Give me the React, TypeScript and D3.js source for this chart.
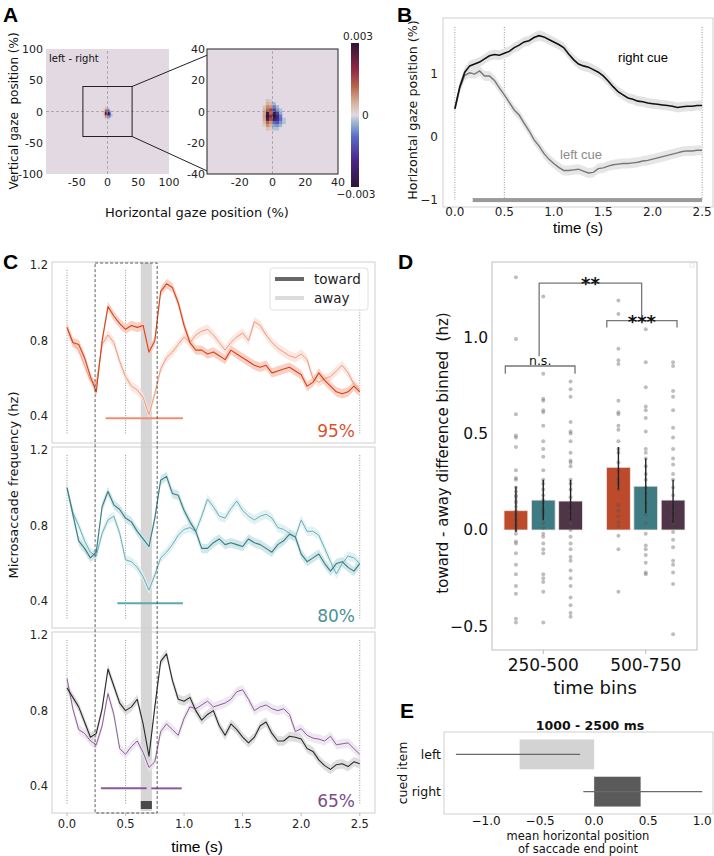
import * as d3 from "d3";

const TICK = "'DejaVu Sans', sans-serif";
const SANS = "'Liberation Sans', Arial, sans-serif";

// ---- A: gaze density difference (left - right), values in units of 1e-3 ----
const heatX = [-7, -5, -3, -1, 1, 3, 5, 7];
const heatY = [7, 5, 3, 1, -1, -3, -5, -7, -9, -11];
const heatVals = [
  [0, 0, 0.3, 0.2, 0, 0, 0, 0],
  [0, 0, 0.5, 0.4, -0.3, 0, 0, 0],
  [0, 0.3, 0.9, 0.8, -0.8, -0.3, 0, 0],
  [0, 0.5, 1.2, 1.6, -1.5, -0.6, -0.2, 0],
  [0, 0.6, 2.8, 1.2, -2.7, -1.5, -0.4, 0],
  [0, 0.7, 3.0, 2.0, -3.0, -2.0, -0.8, 0],
  [0, 0.6, 2.6, 1.5, -2.5, -1.8, -0.9, -0.2],
  [0, 0.4, 1.2, 0.8, -1.0, -1.2, -0.6, -0.2],
  [0, 0.2, 0.8, 0.5, -0.5, -0.6, -0.3, 0],
  [0, 0, 0.3, 0.2, -0.2, -0.2, 0, 0],
];
const cmapStops = [-3, -1.8, -0.9, -0.3, 0, 0.5, 1.2, 1.9, 3];
const cmapColors = ["#2f1436", "#4b2a8e", "#5a6cc8", "#9db8d0", "#e2d9e2", "#d7b29d", "#b8644a", "#8e2a46", "#2f1436"];
const heatTicksL = [-50, 0, 50, 100];
const heatTicksLy = [100, 50, 0, -50, -100];
const heatTicksR = [-20, 0, 20, 40];
const heatTicksRy = [40, 20, 0, -20, -40];

// ---- shared time axis (s) for B and C ----
const timeS = [
  0, 0.05, 0.1, 0.15, 0.2, 0.25, 0.3, 0.35, 0.4, 0.45, 0.5, 0.55, 0.6, 0.65, 0.7, 0.75, 0.8, 0.85, 0.9, 0.95,
  1.0, 1.05, 1.1, 1.15, 1.2, 1.25, 1.3, 1.35, 1.4, 1.45, 1.5, 1.55, 1.6, 1.65, 1.7, 1.75, 1.8, 1.85, 1.9, 1.95,
  2.0, 2.05, 2.1, 2.15, 2.2, 2.25, 2.3, 2.35, 2.4, 2.45, 2.5,
];
const timeTicks = [0, 0.5, 1.0, 1.5, 2.0, 2.5];
const eventTimes = [0, 0.5, 2.5];

// ---- B: horizontal gaze position ----
const gazeRightCue = [
  0.45, 0.8, 1.03, 1.13, 1.16, 1.19, 1.24, 1.29, 1.31, 1.3, 1.33, 1.36, 1.42, 1.46, 1.51, 1.53, 1.58, 1.61, 1.59, 1.55,
  1.51, 1.47, 1.42, 1.32, 1.23, 1.16, 1.13, 1.11, 1.07, 1.03, 0.97, 0.89, 0.8, 0.72, 0.67, 0.62, 0.6, 0.57, 0.56, 0.54,
  0.53, 0.52, 0.51, 0.5, 0.49, 0.47, 0.48, 0.49, 0.49, 0.5, 0.5,
];
const gazeLeftCue = [
  0.45, 0.78, 0.98, 1.02, 1.0, 1.05, 0.97, 0.97, 0.9, 0.78, 0.67, 0.55, 0.43, 0.35, 0.22, 0.1, -0.04, -0.14, -0.26, -0.35,
  -0.42, -0.48, -0.53, -0.53, -0.52, -0.51, -0.54, -0.57, -0.56, -0.5, -0.49, -0.46, -0.44, -0.43, -0.42, -0.42, -0.41,
  -0.4, -0.38, -0.37, -0.35, -0.33, -0.31, -0.29, -0.27, -0.25, -0.23, -0.22, -0.22, -0.21, -0.21,
];
const gazeSigSpan = [0.18, 2.5];
const gazeTicks = [1, 0, -1];

// ---- C: microsaccade frequency (hz) ----
const msToward95 = [
  0.87, 0.79, 0.78, 0.71, 0.61, 0.53, 0.8, 0.98, 0.93, 0.89, 0.86, 0.88, 0.87, 0.88, 0.74, 0.8, 1.06, 1.1, 1.08, 1.0,
  0.88, 0.79, 0.75, 0.75, 0.73, 0.74, 0.72, 0.7, 0.75, 0.73, 0.71, 0.69, 0.67, 0.66, 0.67, 0.63, 0.64, 0.65, 0.66, 0.64,
  0.62, 0.56, 0.58, 0.63, 0.59, 0.56, 0.53, 0.52, 0.53, 0.56, 0.53,
];
const msAway95 = [
  0.87, 0.79, 0.75, 0.67, 0.59, 0.57, 0.78, 0.83, 0.79, 0.69, 0.61, 0.56, 0.54, 0.5, 0.41, 0.52, 0.65, 0.71, 0.74, 0.78,
  0.82, 0.79, 0.83, 0.85, 0.86, 0.83, 0.79, 0.75, 0.79, 0.82, 0.84, 0.8, 0.9, 0.88, 0.83, 0.79, 0.76, 0.74, 0.72, 0.71,
  0.73, 0.7, 0.6, 0.58, 0.6, 0.61, 0.64, 0.67, 0.63, 0.57, 0.54,
];
const msToward80 = [
  1.0, 0.86, 0.72, 0.68, 0.63, 0.66, 0.9, 0.98, 0.91, 0.885, 0.84, 0.82, 0.77, 0.73, 0.69, 0.84, 1.04, 1.06, 0.97, 0.96,
  0.88, 0.82, 0.77, 0.68, 0.68, 0.71, 0.73, 0.7, 0.71, 0.7, 0.69, 0.73, 0.71, 0.7, 0.68, 0.66, 0.7, 0.72, 0.755, 0.74,
  0.65, 0.61, 0.63, 0.65, 0.6, 0.56, 0.6, 0.61, 0.58, 0.56, 0.6,
];
const msAway80 = [
  1.0, 0.87, 0.8, 0.72, 0.66, 0.64, 0.76, 0.83, 0.85, 0.76, 0.62, 0.61, 0.58, 0.53, 0.46, 0.54, 0.63, 0.66, 0.7, 0.75,
  0.78, 0.79, 0.77, 0.85, 0.94, 0.9, 0.85, 0.84, 0.89, 0.93, 0.88, 0.85, 0.83, 0.85, 0.86, 0.84, 0.79, 0.78, 0.76, 0.74,
  0.83, 0.77, 0.77, 0.75, 0.68, 0.61, 0.545, 0.6, 0.64, 0.63, 0.6,
];
const msToward65 = [
  0.92, 0.87, 0.82, 0.74, 0.66, 0.68, 0.81, 1.02, 0.93, 0.84, 0.8, 0.82, 0.86, 0.73, 0.56, 0.82, 1.06, 1.1, 0.96, 0.86,
  0.85, 0.87, 0.8, 0.75, 0.78, 0.8, 0.72, 0.67, 0.73, 0.7, 0.66, 0.63, 0.66, 0.72, 0.74, 0.68, 0.64, 0.64, 0.665, 0.66,
  0.65, 0.6, 0.585, 0.54, 0.51, 0.49, 0.515, 0.52, 0.505, 0.53, 0.52,
];
const msAway65 = [
  0.97, 0.81, 0.7, 0.68, 0.64, 0.62, 0.72, 0.89, 0.78, 0.6, 0.57, 0.61, 0.64, 0.58, 0.5, 0.53, 0.69, 0.73, 0.7, 0.67,
  0.76, 0.82, 0.81, 0.83, 0.85, 0.82, 0.83, 0.84, 0.86, 0.9, 0.91, 0.86, 0.8, 0.82, 0.83, 0.81, 0.8, 0.81, 0.78, 0.69,
  0.705, 0.67, 0.655, 0.65, 0.64, 0.665, 0.62, 0.625, 0.63, 0.6, 0.57,
];
const conditions = ["95%", "80%", "65%"];
const sigSpans = [[[0.33, 0.99]], [[0.43, 0.99]], [[0.29, 0.68], [0.72, 0.98]]];
const sigLevel = 0.39;
const windowSpan = [0.24, 0.77];
const bandSpan = [0.63, 0.725];
const msTicks = [1.2, 0.8, 0.4];

// ---- D: toward - away difference per time bin ----
const timeBins = ["250-500", "500-750"];
const binMeans = [[0.1, 0.155, 0.15], [0.325, 0.227, 0.155]];
const binCiLow = [[-0.01, 0.05, 0.05], [0.21, 0.087, 0.035]];
const binCiHigh = [[0.225, 0.26, 0.26], [0.43, 0.37, 0.26]];
const subj95Early = [1.31, 0.99, 0.6, 0.49, 0.48, 0.43, 0.31, 0.27, 0.26, 0.22, 0.2, 0.18, 0.17, 0.15, 0.14, 0.12, 0.1, 0.08, 0.06, 0.05, 0.03, 0.02, 0.0, -0.02, -0.06, -0.07, -0.12, -0.18, -0.23, -0.29, -0.33, -0.46, -0.48];
const subj80Early = [1.21, 0.81, 0.68, 0.67, 0.62, 0.61, 0.54, 0.46, 0.42, 0.38, 0.31, 0.26, 0.24, 0.21, 0.18, 0.155, 0.14, 0.11, 0.1, 0.09, 0.07, 0.035, 0.01, -0.02, -0.035, -0.07, -0.1, -0.12, -0.23, -0.25, -0.27, -0.32, -0.48];
const subj65Early = [0.77, 0.73, 0.69, 0.56, 0.51, 0.5, 0.46, 0.4, 0.36, 0.35, 0.33, 0.26, 0.24, 0.21, 0.17, 0.14, 0.1, 0.07, 0.035, 0.0, -0.035, -0.07, -0.1, -0.14, -0.16, -0.21, -0.25, -0.29, -0.35, -0.39, -0.43, -0.45];
const subj95Late = [1.19, 1.12, 0.94, 0.88, 0.86, 0.67, 0.61, 0.6, 0.54, 0.52, 0.46, 0.42, 0.4, 0.35, 0.31, 0.26, 0.24, 0.21, 0.13, 0.1, 0.07, 0.04, 0.02, -0.03, -0.1, -0.32];
const subj80Late = [1.04, 0.87, 0.74, 0.64, 0.62, 0.58, 0.51, 0.42, 0.4, 0.37, 0.33, 0.29, 0.26, 0.22, 0.19, 0.14, 0.08, 0.035, -0.02, -0.08, -0.1, -0.13, -0.17, -0.22, -0.23];
const subj65Late = [0.87, 0.85, 0.72, 0.69, 0.62, 0.53, 0.48, 0.42, 0.37, 0.34, 0.29, 0.26, 0.22, 0.18, 0.14, 0.1, 0.06, 0.035, -0.01, -0.05, -0.09, -0.16, -0.18, -0.22, -0.28, -0.54];
const diffTicks = [1.0, 0.5, 0.0, -0.5];

// ---- E: saccade end point, 1000 - 2500 ms ----
const cuedItems = ["left", "right"];
const endMeans = [-0.69, 0.43];
const endCiLow = [-1.28, -0.1];
const endCiHigh = [-0.13, 1.0];
const endTicks = [-1.0, -0.5, 0.0, 0.5, 1.0];

const towardColors = ["#d5431b", "#3a7c84", "#2a2a2a"];
const awayColors = ["#ee9a80", "#6cb0b7", "#8c5e99"];
const towardBand = ["#f6c6b5", "#c6e1e3", "#d6d6d6"];
const awayBand = ["#fbe2da", "#dbeef0", "#ebe1ee"];
const sigColors = ["#ee8f75", "#5ea9af", "#8a5c97"];
const labelColors = ["#d9532f", "#4b9198", "#7a4d88"];
const barColors = ["#bd4a2b", "#3f7b82", "#4e3548"];

const fmtMinus = (v: number, digits: number) => (v < 0 ? "\u2212" : "") + Math.abs(v).toFixed(digits);

function PanelLetter({ x, y, t }: { x: number; y: number; t: string }) {
  return (
    <text x={x} y={y} fontFamily={SANS} fontWeight="bold" fontSize={21} fill="#000">
      {t}
    </text>
  );
}

export default function App() {
  // ---------- A ----------
  const xAL = d3.scaleLinear().domain([-100, 100]).range([46, 169]);
  const yAL = d3.scaleLinear().domain([-100, 100]).range([174, 49]);
  const xAR = d3.scaleLinear().domain([-40, 40]).range([207, 338]);
  const yAR = d3.scaleLinear().domain([-40, 40]).range([174, 49]);
  const cmap = d3.scaleLinear<string>().domain(cmapStops).range(cmapColors).interpolate(d3.interpolateRgb).clamp(true);
  const cells = heatY.flatMap((yv, r) => heatX.map((xv, c) => ({ x: xv, y: yv, v: heatVals[r][c] })));
  const cbY = d3.scaleLinear().domain([-3, 3]).range([187, 43]);

  const heatmap = (xs: d3.ScaleLinear<number, number>, ys: d3.ScaleLinear<number, number>, key: string) => (
    <g key={key}>
      <rect x={xs.range()[0]} y={ys.range()[1]} width={xs.range()[1] - xs.range()[0]} height={ys.range()[0] - ys.range()[1]} fill={cmap(0)} />
      {cells.map((d, i) => (
        <rect key={i} x={xs(d.x - 1)} y={ys(d.y + 1)} width={xs(d.x + 1) - xs(d.x - 1) + 0.3} height={ys(d.y - 1) - ys(d.y + 1) + 0.3} fill={cmap(d.v)} />
      ))}
      <line x1={xs(0)} x2={xs(0)} y1={ys.range()[0]} y2={ys.range()[1]} stroke="#8a8a8a" strokeWidth={0.6} strokeDasharray="3,2" />
      <line x1={xs.range()[0]} x2={xs.range()[1]} y1={ys(0)} y2={ys(0)} stroke="#8a8a8a" strokeWidth={0.6} strokeDasharray="3,2" />
    </g>
  );

  // ---------- B ----------
  const xB = d3.scaleLinear().domain([-0.12, 2.61]).range([443, 713]);
  const yB = d3.scaleLinear().domain([-1.11, 1.89]).range([207, 18]);
  const lineB = d3.line<number>().x((_, i) => xB(timeS[i])).y((d) => yB(d));
  const areaB = d3.area<number>().x((_, i) => xB(timeS[i])).y0((d) => yB(d - 0.08)).y1((d) => yB(d + 0.08));

  // ---------- C ----------
  const xC = d3.scaleLinear().domain([-0.128, 2.63]).range([52, 375]);
  const cTops = [262, 447, 632];
  const cH = 181;
  const towardSeries = [msToward95, msToward80, msToward65];
  const awaySeries = [msAway95, msAway80, msAway65];

  const cPanel = (k: number) => {
    const top = cTops[k];
    const yC = d3.scaleLinear().domain([0.26, 1.215]).range([top + cH, top]);
    const ln = d3.line<number>().x((_, i) => xC(timeS[i])).y((d) => yC(d));
    const ar = d3.area<number>().x((_, i) => xC(timeS[i])).y0((d) => yC(d - 0.025)).y1((d) => yC(d + 0.025));
    return (
      <g key={"c" + k}>
        <rect x={52} y={top} width={323} height={cH} fill="none" stroke="#cfcfcf" strokeWidth={1} />
        {msTicks.map((t) => (
          <text key={t} x={48} y={yC(t) + 4} textAnchor="end" fontFamily={TICK} fontSize={11.5} fill="#222">
            {t.toFixed(1)}
          </text>
        ))}
        {eventTimes.map((t) => (
          <line key={t} x1={xC(t)} x2={xC(t)} y1={top + 8} y2={top + cH - 8} stroke="#555" strokeWidth={0.6} strokeDasharray="1,1.5" />
        ))}
        {k === 2 &&
          timeTicks.map((t) => <line key={t} x1={xC(t)} x2={xC(t)} y1={top + cH} y2={top + cH + 3} stroke="#bbb" />)}
        <path d={ar(awaySeries[k]) || ""} fill={awayBand[k]} opacity={0.8} />
        <path d={ar(towardSeries[k]) || ""} fill={towardBand[k]} opacity={0.8} />
        <path d={ln(awaySeries[k]) || ""} fill="none" stroke={awayColors[k]} strokeWidth={1} strokeLinejoin="round" />
        <path d={ln(towardSeries[k]) || ""} fill="none" stroke={towardColors[k]} strokeWidth={1.1} strokeLinejoin="round" />
        {sigSpans[k].map((s, i) => (
          <line key={i} x1={xC(s[0])} x2={xC(s[1])} y1={yC(sigLevel)} y2={yC(sigLevel)} stroke={sigColors[k]} strokeWidth={2} />
        ))}
        <text x={355} y={yC(0.293)} textAnchor="end" fontFamily={TICK} fontSize={17} fill={labelColors[k]}>
          {conditions[k]}
        </text>
      </g>
    );
  };

  // ---------- D ----------
  const xD = d3.scaleBand<string>().domain(timeBins).range([492, 697]);
  const hueD = d3.scaleBand<string>().domain(conditions).range([-0.4 * xD.bandwidth(), 0.4 * xD.bandwidth()]);
  const yD = d3.scaleLinear().domain([-0.622, 1.389]).range([650, 262]);
  const subjects = [
    [subj95Early, subj80Early, subj65Early],
    [subj95Late, subj80Late, subj65Late],
  ];
  const barW = hueD.bandwidth() * 0.87;
  const barCx = (b: number, c: number) => (xD(timeBins[b]) as number) + xD.bandwidth() / 2 + (hueD(conditions[c]) as number) + hueD.bandwidth() / 2;
  const brX = (b: number, f: number) => (xD(timeBins[b]) as number) + xD.bandwidth() * f;

  // ---------- E ----------
  const xE = d3.scaleLinear().domain([-1.39, 1.1]).range([444, 713]);
  const yE = d3.scaleBand<string>().domain(cuedItems).range([732, 814]).padding(0.2);
  const endFill = ["#d3d3d3", "#5a5a5a"];

  return (
    <div style={{ position: "absolute", left: 0, top: 0 }}>
      <svg width={714} height={856} viewBox="0 0 714 856" style={{ display: "block", background: "#fff" }}>
        <defs>
          <linearGradient id="cbar" x1="0" y1="1" x2="0" y2="0">
            {cmapStops.map((s, i) => (
              <stop key={i} offset={(s + 3) / 6} stopColor={cmapColors[i]} />
            ))}
          </linearGradient>
        </defs>

        {/* ================= A ================= */}
        <PanelLetter x={3} y={22} t="A" />
        {heatmap(xAL, yAL, "hl")}
        {heatmap(xAR, yAR, "hr")}
        <rect x={207} y={49} width={131} height={125} fill="none" stroke="#222" strokeWidth={1} />
        <rect x={xAL(-40)} y={yAL(40)} width={xAL(40) - xAL(-40)} height={yAL(-40) - yAL(40)} fill="none" stroke="#222" strokeWidth={1} />
        <line x1={xAL(40)} y1={yAL(40)} x2={xAR(-40)} y2={yAR(36)} stroke="#222" strokeWidth={1} />
        <line x1={xAL(40)} y1={yAL(-40)} x2={xAR(-40)} y2={yAR(-38)} stroke="#222" strokeWidth={1} />
        <text x={49} y={62} fontFamily={TICK} fontSize={10} fill="#111">left - right</text>
        {heatTicksLy.map((t) => (
          <text key={t} x={43} y={yAL(t) + 4} textAnchor="end" fontFamily={TICK} fontSize={11} fill="#222">{t}</text>
        ))}
        {heatTicksL.map((t) => (
          <text key={t} x={xAL(t)} y={186} textAnchor="middle" fontFamily={TICK} fontSize={11} fill="#222">{t}</text>
        ))}
        {heatTicksRy.map((t) => (
          <text key={t} x={205} y={yAR(t) + 4} textAnchor="end" fontFamily={TICK} fontSize={11} fill="#222">{t}</text>
        ))}
        {heatTicksR.map((t) => (
          <text key={t} x={xAR(t)} y={186} textAnchor="middle" fontFamily={TICK} fontSize={11} fill="#222">{t}</text>
        ))}
        <rect x={351} y={cbY(3)} width={8} height={cbY(-3) - cbY(3)} fill="url(#cbar)" />
        <text x={358} y={40} textAnchor="middle" fontFamily={TICK} fontSize={10.5} fill="#222">0.003</text>
        <text x={362} y={119} fontFamily={TICK} fontSize={10.5} fill="#222">0</text>
        <text x={356} y={198} textAnchor="middle" fontFamily={TICK} fontSize={10.5} fill="#222">{"\u22120.003"}</text>
        <text x={197} y={217} textAnchor="middle" fontFamily={TICK} fontSize={13} fill="#111">Horizontal gaze position (%)</text>
        <text transform="translate(18,111) rotate(-90)" textAnchor="middle" fontFamily={TICK} fontSize={12} fill="#111" style={{ whiteSpace: "pre" }}>
          {"Vertical gaze  position (%)"}
        </text>

        {/* ================= B ================= */}
        <PanelLetter x={397} y={22} t="B" />
        <rect x={443} y={18} width={270} height={189} fill="none" stroke="#cfcfcf" />
        {eventTimes.map((t) => (
          <line key={t} x1={xB(t)} x2={xB(t)} y1={27} y2={200} stroke="#555" strokeWidth={0.6} strokeDasharray="1,1.5" />
        ))}
        <rect x={xB(gazeSigSpan[0])} y={yB(-1) - 2} width={xB(gazeSigSpan[1]) - xB(gazeSigSpan[0])} height={4} fill="#9a9a9a" />
        <path d={areaB(gazeLeftCue) || ""} fill="#e6e6e6" />
        <path d={areaB(gazeRightCue) || ""} fill="#e3e3e3" />
        <path d={lineB(gazeLeftCue) || ""} fill="none" stroke="#777" strokeWidth={1.4} />
        <path d={lineB(gazeRightCue) || ""} fill="none" stroke="#111" strokeWidth={1.6} />
        <text x={643} y={62} textAnchor="middle" fontFamily={SANS} fontSize={13} fill="#000">right cue</text>
        <text x={581} y={159} textAnchor="middle" fontFamily={SANS} fontSize={13} fill="#8a8a8a">left cue</text>
        {gazeTicks.map((t) => (
          <text key={t} x={438} y={yB(t) + 4} textAnchor="end" fontFamily={TICK} fontSize={12} fill="#222">{fmtMinus(t, 0)}</text>
        ))}
        {timeTicks.map((t) => (
          <text key={t} x={xB(t)} y={216} textAnchor="middle" fontFamily={TICK} fontSize={12} fill="#222">{t.toFixed(1)}</text>
        ))}
        <text x={578} y={233} textAnchor="middle" fontFamily={SANS} fontSize={15} fill="#000">time (s)</text>
        <text transform="translate(417,110) rotate(-90)" textAnchor="middle" fontFamily={TICK} fontSize={12.7} fill="#111">
          Horizontal gaze position (%)
        </text>

        {/* ================= C ================= */}
        <PanelLetter x={3} y={269} t="C" />
        <rect x={xC(bandSpan[0])} y={263} width={xC(bandSpan[1]) - xC(bandSpan[0])} height={548} fill="#d6d6d6" />
        {[0, 1, 2].map((k) => cPanel(k))}
        <rect x={xC(windowSpan[0])} y={263} width={xC(windowSpan[1]) - xC(windowSpan[0])} height={550} fill="none" stroke="#333" strokeWidth={0.8} strokeDasharray="3,2" />
        <rect x={xC(bandSpan[0])} y={801} width={xC(bandSpan[1]) - xC(bandSpan[0])} height={8} fill="#4a4a4a" />
        <rect x={270} y={268} width={98} height={42} rx={3} fill="#fff" fillOpacity={0.85} stroke="#e0e0e0" />
        <line x1={275} x2={304} y1={279} y2={279} stroke="#666" strokeWidth={4} />
        <line x1={275} x2={304} y1={298} y2={298} stroke="#dcdcdc" strokeWidth={4} />
        <text x={314} y={284} fontFamily={TICK} fontSize={13.5} fill="#222">toward</text>
        <text x={314} y={303} fontFamily={TICK} fontSize={13.5} fill="#222">away</text>
        {timeTicks.map((t) => (
          <text key={t} x={xC(t)} y={828} textAnchor="middle" fontFamily={TICK} fontSize={11.5} fill="#222">{t.toFixed(1)}</text>
        ))}
        <text x={197} y={852} textAnchor="middle" fontFamily={SANS} fontSize={15.5} fill="#000">time (s)</text>
        <text transform="translate(18,485) rotate(-90)" textAnchor="middle" fontFamily={TICK} fontSize={13} fill="#111">
          Microsaccade frequency (hz)
        </text>

        {/* ================= D ================= */}
        <PanelLetter x={398} y={269} t="D" />
        <rect x={492} y={262} width={205} height={388} fill="none" stroke="#bdbdbd" />
        <rect x={690} y={263} width={4} height={4} fill="none" stroke="#e0e0e0" strokeWidth={0.7} />
        {diffTicks.map((t) => (
          <text key={t} x={488} y={yD(t) + 5.5} textAnchor="end" fontFamily={TICK} fontSize={15.5} fill="#111">{fmtMinus(t, 1)}</text>
        ))}
        {timeBins.map((b) => (
          <g key={b}>
            <line x1={(xD(b) as number) + xD.bandwidth() / 2} x2={(xD(b) as number) + xD.bandwidth() / 2} y1={650} y2={654} stroke="#bbb" />
            <text x={(xD(b) as number) + xD.bandwidth() / 2} y={671} textAnchor="middle" fontFamily={TICK} fontSize={17} fill="#111">{b}</text>
          </g>
        ))}
        <text x={595} y={694} textAnchor="middle" fontFamily={TICK} fontSize={18} fill="#111">time bins</text>
        <text transform="translate(448,453) rotate(-90)" textAnchor="middle" fontFamily={TICK} fontSize={15} fill="#111" style={{ whiteSpace: "pre" }}>
          {"toward - away difference binned  (hz)"}
        </text>
        {binMeans.map((row, b) =>
          row.map((m, c) => (
            <rect key={`b${b}${c}`} x={barCx(b, c) - barW / 2} y={yD(Math.max(m, 0))} width={barW} height={Math.abs(yD(m) - yD(0))} fill={barColors[c]} stroke="#efe6e6" strokeWidth={0.8} />
          ))
        )}
        {subjects.map((row, b) =>
          row.map((vals, c) =>
            vals.map((v, i) => <circle key={`s${b}${c}${i}`} cx={barCx(b, c)} cy={yD(v)} r={2} fill="#555" fillOpacity={0.38} />)
          )
        )}
        {binMeans.map((row, b) =>
          row.map((_, c) => (
            <line key={`e${b}${c}`} x1={barCx(b, c)} x2={barCx(b, c)} y1={yD(binCiLow[b][c])} y2={yD(binCiHigh[b][c])} stroke="#222" strokeWidth={1.4} />
          ))
        )}
        {/* n.s. bracket */}
        <path d={`M${brX(0, 0.13)},${yD(0.81)}V${yD(0.85)}H${brX(0, 0.81)}V${yD(0.81)}`} fill="none" stroke="#777" strokeWidth={1.3} />
        <text x={(brX(0, 0.13) + brX(0, 0.81)) / 2} y={yD(0.85) - 1} textAnchor="middle" fontFamily={TICK} fontSize={12.5} fill="#111">n.s.</text>
        {/* *** bracket */}
        <path d={`M${brX(1, 0.12)},${yD(1.05)}V${yD(1.085)}H${brX(1, 0.805)}V${yD(1.05)}`} fill="none" stroke="#777" strokeWidth={1.3} />
        <text x={(brX(1, 0.12) + brX(1, 0.805)) / 2} y={yD(1.085) + 7} textAnchor="middle" fontFamily={TICK} fontWeight="bold" fontSize={18} fill="#111">***</text>
        {/* ** bracket */}
        <path d={`M${brX(0, 0.46)},${yD(0.9)}V${yD(1.28)}H${brX(1, 0.46)}V${yD(1.105)}`} fill="none" stroke="#777" strokeWidth={1.3} />
        <text x={(brX(0, 0.46) + brX(1, 0.46)) / 2} y={yD(1.28) + 7} textAnchor="middle" fontFamily={TICK} fontWeight="bold" fontSize={18} fill="#111">**</text>

        {/* ================= E ================= */}
        <PanelLetter x={400} y={718} t="E" />
        <text x={590} y={730} textAnchor="middle" fontFamily={TICK} fontWeight="bold" fontSize={12.5} fill="#111">1000 - 2500 ms</text>
        <rect x={444} y={732} width={269} height={82} fill="none" stroke="#cfcfcf" />
        {cuedItems.map((c, i) => (
          <g key={c}>
            <rect x={xE(Math.min(endMeans[i], 0))} y={yE(c) as number} width={Math.abs(xE(endMeans[i]) - xE(0))} height={yE.bandwidth()} fill={endFill[i]} />
            <line x1={xE(endCiLow[i])} x2={xE(endCiHigh[i])} y1={(yE(c) as number) + yE.bandwidth() / 2} y2={(yE(c) as number) + yE.bandwidth() / 2} stroke="#6a6a6a" strokeWidth={1.2} />
            <text x={441} y={(yE(c) as number) + yE.bandwidth() / 2 + 4.5} textAnchor="end" fontFamily={TICK} fontSize={12.5} fill="#111">{c}</text>
          </g>
        ))}
        {endTicks.map((t) => (
          <text key={t} x={xE(t)} y={825} textAnchor="middle" fontFamily={TICK} fontSize={12} fill="#111">{fmtMinus(t, 1)}</text>
        ))}
        <text x={578} y={840} textAnchor="middle" fontFamily={TICK} fontSize={11.5} fill="#111">mean horizontal position</text>
        <text x={578} y={853} textAnchor="middle" fontFamily={TICK} fontSize={11.5} fill="#111">of saccade end point</text>
        <text transform="translate(407,773) rotate(-90)" textAnchor="middle" fontFamily={TICK} fontSize={12.5} fill="#111">cued item</text>
      </svg>
    </div>
  );
}
